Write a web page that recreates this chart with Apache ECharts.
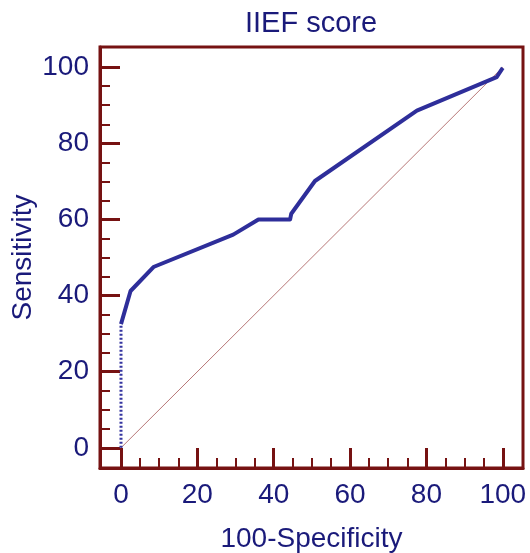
<!DOCTYPE html>
<html>
<head>
<meta charset="utf-8">
<script src="https://cdn.jsdelivr.net/npm/echarts@6/dist/echarts.min.js"></script>
<style>html,body{margin:0;padding:0;background:#fff}#c{width:530px;height:553px}</style>
</head>
<body>
<div id="c"></div>
<script>
// ROC curve data (100-Specificity, Sensitivity)
const stepX = [0, 0];
const stepY = [0, 32.5];
const rocX = [0, 2.5, 8.5, 29.4, 36, 44.3, 44.6, 50.8, 77.5, 98.4, 100];
const rocY = [32.5, 41.2, 47.5, 56, 60, 60, 61.5, 70.1, 88.6, 97.4, 99.8];
const diagX = [0, 100];
const diagY = [0, 100];
const majorTicks = [0, 20, 40, 60, 80, 100];
const minorTicks = [5, 10, 15, 25, 30, 35, 45, 50, 55, 65, 70, 75, 85, 90, 95];
const titleText = 'IIEF score';
const xName = '100-Specificity';
const yName = 'Sensitivity';

const navy = '#1a1a7a';
const frame = '#761212';
const font = 'Liberation Sans, Arial, sans-serif';
const zip = (a, b) => a.map((v, i) => [v, b[i]]);
const axisMin = -5.5, axisMax = 105.3;
const axisMinY = -5.3, axisMaxY = 105.3;

const labelStyle = {color: navy, fontSize: 28, fontFamily: font};

function mainAxis(extra, mn, mx, margin) {
  return Object.assign({
    type: 'value', min: mn, max: mx,
    nameMoveOverlap: false,
    axisLine: {show: true, onZero: false, lineStyle: {color: frame, width: 3}},
    axisTick: {show: true, inside: true, length: 20, customValues: majorTicks,
      lineStyle: {color: frame, width: 3}},
    axisLabel: Object.assign({customValues: majorTicks, margin: margin}, labelStyle),
    splitLine: {show: false}
  }, extra);
}
function minorAxis(pos, mn, mx) {
  return {
    type: 'value', min: mn, max: mx, position: pos,
    axisLine: {show: false, onZero: false},
    axisTick: {show: true, inside: true, length: 10, customValues: minorTicks,
      lineStyle: {color: frame, width: 2}},
    axisLabel: {show: false},
    splitLine: {show: false}
  };
}

const chart = echarts.init(document.getElementById('c'), null, {renderer: 'canvas'});
chart.setOption({
  animation: false,
  backgroundColor: '#fff',
  title: {
    text: titleText,
    left: 245,
    top: 9,
    padding: 0,
    textStyle: {color: navy, fontSize: 29, fontWeight: 'normal', fontFamily: font}
  },
  grid: {left: 100, right: 7, top: 47, bottom: 85, containLabel: false,
    outerBoundsMode: 'none',
    show: true, borderColor: frame, borderWidth: 3, backgroundColor: 'transparent'},
  xAxis: [
    mainAxis({position: 'bottom', name: xName, nameLocation: 'middle', nameGap: 57,
      nameTextStyle: labelStyle}, axisMin, axisMax, 13),
    minorAxis('bottom', axisMin, axisMax)
  ],
  yAxis: [
    mainAxis({position: 'left', name: yName, nameLocation: 'middle', nameGap: 63, nameRotate: 90,
      nameTextStyle: labelStyle}, axisMinY, axisMaxY, 11),
    minorAxis('left', axisMinY, axisMaxY)
  ],
  series: [
    {
      type: 'line', data: zip(diagX, diagY), symbol: 'none', silent: true,
      lineStyle: {color: '#b87878', width: 1}, z: 2
    },
    {
      type: 'line', data: zip(stepX, stepY), symbol: 'none', silent: true,
      lineStyle: {color: '#3535a0', width: 3, type: [2, 2]}, z: 3
    },
    {
      type: 'line', data: zip(rocX, rocY), symbol: 'none', silent: true,
      lineStyle: {color: '#2e2e9a', width: 4, join: 'round'}, z: 4
    }
  ]
});
</script>
</body>
</html>
